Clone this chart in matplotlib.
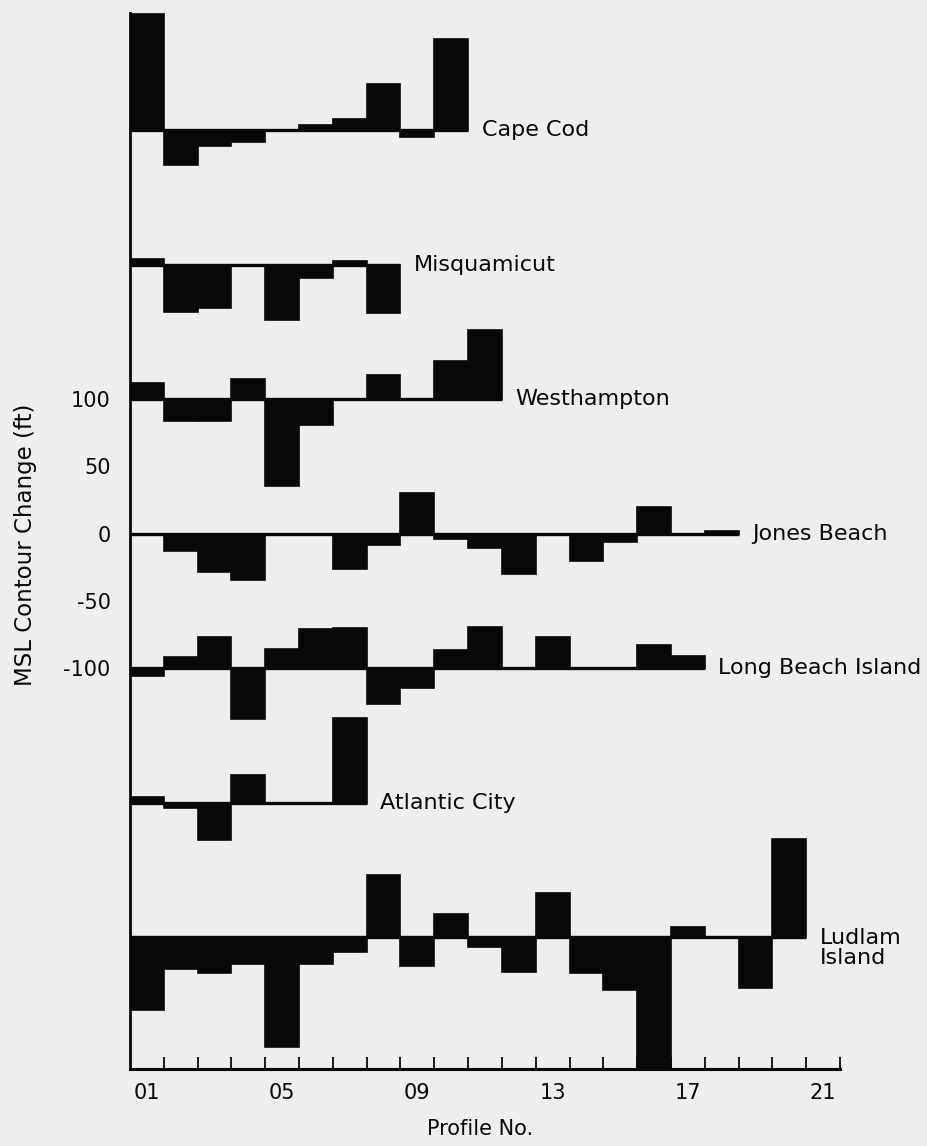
import matplotlib
matplotlib.use("Agg")
import matplotlib.pyplot as plt
import numpy as np

# ---- data (MSL contour change, ft) ----
series_names = ["Cape Cod", "Misquamicut", "Westhampton", "Jones Beach",
                "Long Beach Island", "Atlantic City", "Ludlam\nIsland"]
series_offsets = [300, 200, 100, 0, -100, -200, -300]

cape_cod = [86, -26, -11.5, -9, -1, 4, 8, 34, -5, 68]
misquamicut = [4, -35, -32, 0, -41.5, -10, 3, -36]
westhampton = [12, -16, -16, 15, -64.5, -19, 0, 18, 0, 28.5, 51.5]
jones_beach = [0, -13, -28.5, -34.5, 0, 0, -26.5, -8.5, 30, -4, -11, -30, 0,
               -20, -6, 20, 0, 2]
long_beach_island = [-6, 8, 23.5, -38, 14, 29, 30, -26.5, -15, 13.5, 30.5, 0,
                     23, 0, 0, 17, 9]
atlantic_city = [4, -4, -28, 20.5, 0, 0, 63]
ludlam_island = [-54.5, -24, -26.5, -20.3, -82, -20.3, -11, 46, -21.5, 17.3,
                 -7.4, -25.7, 33, -26.5, -39, -97.5, 7.7, 0, -37.7, 72.7]

all_series = [cape_cod, misquamicut, westhampton, jones_beach,
              long_beach_island, atlantic_city, ludlam_island]

xtick_pos = [1, 5, 9, 13, 17, 21]
xtick_labels = ["01", "05", "09", "13", "17", "21"]
ytick_pos = [100, 50, 0, -50, -100]
ytick_labels = ["100", "50", "0", "-50", "-100"]

# ---- style ----
ink = "#080808"
paper = "#eeeeee"
plt.rcParams["font.family"] = ["DejaVu Sans"]

W, H, DPI = 928, 1146, 100
fig = plt.figure(figsize=(W / DPI, H / DPI), dpi=DPI, facecolor=paper)
left_px, right_px, top_px, bottom_px = 130, 840, 13, 1069
ax = fig.add_axes([left_px / W, 1 - bottom_px / H,
                   (right_px - left_px) / W, (bottom_px - top_px) / H])
ax.set_facecolor(paper)

for vals, off, name in zip(all_series, series_offsets, series_names):
    n = len(vals)
    x = np.arange(1, n + 1)
    ax.bar(x, vals, width=1.0, bottom=off, color=ink, edgecolor=ink,
           linewidth=1.2, zorder=3)
    ax.plot([0.5, n + 0.5], [off, off], color=ink, lw=2.4,
            solid_capstyle="butt", zorder=4)
    if "\n" in name:
        ax.text(n + 0.9, off - 8, name, ha="left", va="center", fontsize=16,
                color=ink, linespacing=1.0, clip_on=False)
    else:
        ax.text(n + 0.9, off, name, ha="left", va="center", fontsize=16,
                color=ink, clip_on=False)

ax.set_xlim(0.5, 21.5)
ax.set_ylim(-398, 387)

for s in ["top", "right"]:
    ax.spines[s].set_visible(False)
ax.spines["left"].set_linewidth(2.0)
ax.spines["bottom"].set_linewidth(2.2)
ax.spines["left"].set_color(ink)
ax.spines["bottom"].set_color(ink)

ax.set_xticks(xtick_pos)
ax.set_xticklabels(xtick_labels, fontsize=15, color=ink)
ax.set_xticks(np.arange(1.5, 22, 1.0), minor=True)
ax.tick_params(axis="x", which="major", length=0, pad=10)
ax.tick_params(axis="x", which="minor", direction="in", length=8.5,
               width=1.3, color=ink)

ax.set_yticks(ytick_pos)
ax.set_yticklabels(ytick_labels, fontsize=15, color=ink)
ax.tick_params(axis="y", which="both", length=0, pad=14)

ax.set_ylabel("MSL Contour Change (ft)", fontsize=16.5, color=ink)
ax.yaxis.set_label_coords(-0.131, 0.496)
ax.set_xlabel("Profile No.", fontsize=15, color=ink)
ax.xaxis.set_label_coords(0.493, -0.047)

fig.savefig("out.png", dpi=DPI, facecolor=paper)
